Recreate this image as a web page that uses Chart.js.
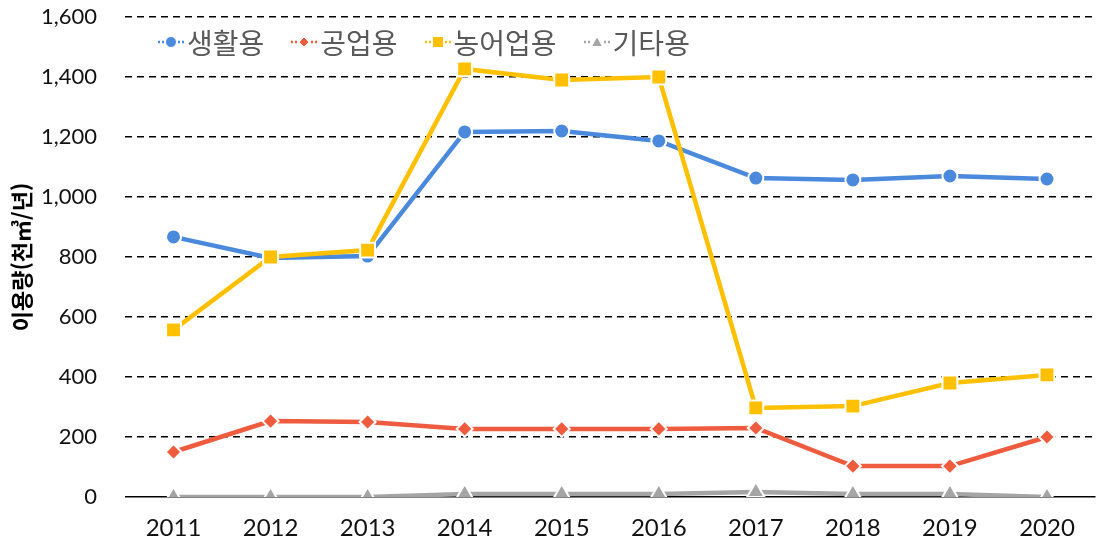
<!DOCTYPE html>
<html lang="ko">
<head>
<meta charset="utf-8">
<script src="https://cdn.jsdelivr.net/npm/chart.js@4"></script>
<style>
  html, body { margin: 0; padding: 0; background: #fff; overflow: hidden; }
  #wrap { position: relative; width: 1108px; height: 549px; }
  #legend {
    position: absolute; left: 156px; top: 22px;
    display: flex; gap: 25px;
    font-family: "Noto Sans CJK KR", sans-serif; font-size: 28px; line-height: 40px; color: #595959;
  }
  #legend .item { display: flex; align-items: center; }
  #legend svg { margin-right: 1px; }
</style>
</head>
<body>
<div id="wrap">
  <canvas id="waterChart" width="1108" height="549"></canvas>
  <div id="legend"></div>
</div>
<script>
// 연도 (x축)
const years = ['2011', '2012', '2013', '2014', '2015', '2016', '2017', '2018', '2019', '2020'];
// 용도별 이용량 (천㎥/년)
const domesticUse = [867, 797, 803, 1217, 1220, 1187, 1063, 1057, 1070, 1060];
const industrialUse = [150, 253, 250, 227, 227, 227, 230, 103, 103, 200];
const agriUse = [557, 800, 823, 1427, 1390, 1400, 297, 303, 380, 407];
const otherUse = [0, 0, 0, 10, 10, 10, 17, 10, 10, 0];
// 계열 이름
const seriesNames = ['생활용', '공업용', '농어업용', '기타용'];
// y축 눈금
const yMin = 0, yMax = 1600, yStep = 200;

const colors = ['#4A89DC', '#EF5B3F', '#FFC000', '#A5A5A5'];
const styles = ['circle', 'rectRot', 'rect', 'triangle'];

function makeDataset(i, data, radius, order) {
    return {
        label: seriesNames[i],
        data: data,
        borderColor: colors[i],
        backgroundColor: colors[i],
        borderWidth: 4.5,
        pointStyle: styles[i],
        pointRadius: radius,
        pointBorderColor: '#fff',
        pointBorderWidth: 2,
        tension: 0,
        order: order
    };
}

const datasets = [
    makeDataset(0, domesticUse, 7.5, 3),
    makeDataset(1, industrialUse, 8, 2),
    makeDataset(2, agriUse, 10.5, 1),
    makeDataset(3, otherUse, 10, 0)
];

const ctx = document.getElementById('waterChart').getContext('2d');
const waterChart = new Chart(ctx, {
    type: 'line',
    data: { labels: years, datasets: datasets },
    options: {
        responsive: false,
        animation: false,
        devicePixelRatio: 1,
        layout: { padding: { top: 17, right: 2, bottom: 0, left: 0 } },
        plugins: {
            legend: { display: false },
            tooltip: { enabled: false }
        },
        scales: {
            x: {
                offset: true,
                grid: { display: false, drawTicks: false },
                border: { display: false },
                ticks: {
                    color: '#111',
                    padding: 17,
                    font: { family: 'Lato, "Noto Sans", sans-serif', size: 24 }
                },
                afterFit: s => { s.height = 52; s.paddingLeft = 0; s.paddingRight = 0; }
            },
            y: {
                min: yMin,
                max: yMax,
                ticks: {
                    stepSize: yStep,
                    color: '#111',
                    padding: 28,
                    font: { family: 'Lato, "Noto Sans", sans-serif', size: 22 }
                },
                grid: {
                    drawTicks: false,
                    color: '#000',
                    lineWidth: 1.5
                },
                border: {
                    display: false,
                    dash: c => (c.tick && c.tick.value === 0 ? [] : [7, 5])
                },
                title: {
                    display: true,
                    text: '이용량(천㎥/년)',
                    color: '#000',
                    padding: { top: 8, bottom: 0 },
                    font: { family: '"Noto Sans CJK KR", sans-serif', size: 22, weight: 'bold' }
                },
                afterFit: s => { s.width = 125; s.paddingTop = 0; s.paddingBottom = 0; }
            }
        }
    }
});

// HTML 범례 (차트 영역 안쪽 좌상단)
function markerSvg(i) {
    const c = colors[i];
    let shape = '';
    if (styles[i] === 'circle') shape = `<circle cx="15" cy="9" r="5.5" fill="${c}" stroke="#fff" stroke-width="1"/>`;
    if (styles[i] === 'rectRot') shape = `<polygon points="15,4 20,9 15,14 10,9" fill="${c}" stroke="#fff" stroke-width="1"/>`;
    if (styles[i] === 'rect') shape = `<rect x="9.5" y="3.5" width="11" height="11" fill="${c}" stroke="#fff" stroke-width="1"/>`;
    if (styles[i] === 'triangle') shape = `<polygon points="15,3.5 20.5,13.5 9.5,13.5" fill="${c}" stroke="#fff" stroke-width="1"/>`;
    return `<svg width="30" height="18" viewBox="0 0 30 18">` +
        `<line x1="2" y1="9" x2="8" y2="9" stroke="${c}" stroke-width="2.5" stroke-dasharray="2,2"/>` +
        `<line x1="22" y1="9" x2="28" y2="9" stroke="${c}" stroke-width="2.5" stroke-dasharray="2,2"/>` +
        shape + `</svg>`;
}

const legendBox = document.getElementById('legend');
seriesNames.forEach((name, i) => {
    const item = document.createElement('div');
    item.className = 'item';
    item.innerHTML = markerSvg(i) + `<span>${name}</span>`;
    legendBox.appendChild(item);
});
</script>
</body>
</html>
